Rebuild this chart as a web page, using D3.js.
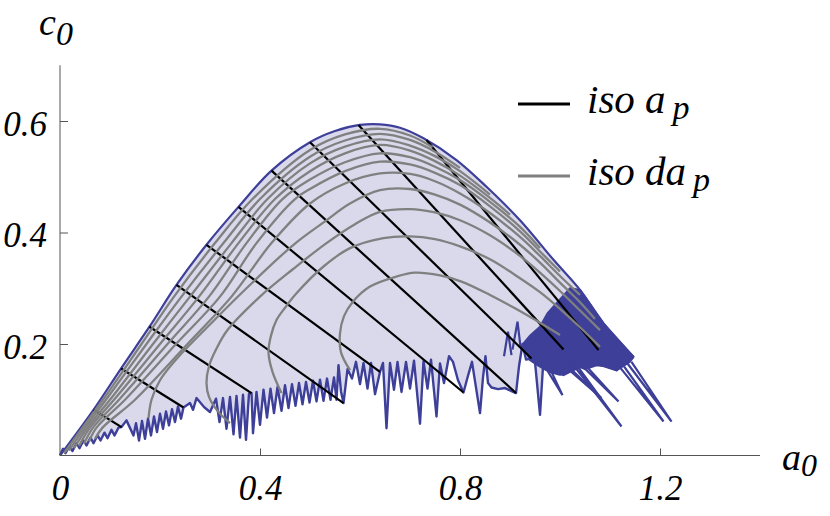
<!DOCTYPE html>
<html>
<head>
<meta charset="utf-8">
<script src="https://cdn.jsdelivr.net/npm/d3@7"></script>
<style>
  html, body { margin: 0; padding: 0; background: #fff; }
  svg text { font-family: "Liberation Serif", "Times New Roman", Tinos, serif !important; font-style: italic; fill: #000; }
</style>
</head>
<body>
<div id="chart"></div>
<script>
const WIDTH = 830;
const HEIGHT = 516;

// axis ticks
const xTicks = [0, 0.4, 0.8, 1.2];
const yTicks = [0.2, 0.4, 0.6];

// upper (smooth) edge of the region, [a0, c0]
const upperEdge = [
  [0, 0], [0.067, 0.082], [0.122, 0.156], [0.179, 0.231], [0.233, 0.306], [0.293, 0.378],
  [0.357, 0.446], [0.423, 0.511], [0.5, 0.562], [0.55, 0.582], [0.6, 0.593], [0.64, 0.594],
  [0.68, 0.588], [0.727, 0.569], [0.793, 0.53], [0.853, 0.482], [0.92, 0.422], [0.987, 0.351],
  [1.04, 0.297], [1.087, 0.237], [1.147, 0.177]
];

// lower (jagged) edge, left to right
const lowerEdge = [
  [0, 0], [0.006, 0.012], [0.011, 0.004], [0.019, 0.017], [0.025, 0.008], [0.033, 0.022], [0.039, 0.013],
  [0.047, 0.027], [0.053, 0.018], [0.061, 0.032], [0.067, 0.022], [0.075, 0.036], [0.081, 0.027],
  [0.089, 0.041], [0.095, 0.031], [0.103, 0.046], [0.109, 0.036], [0.117, 0.05], [0.123, 0.051],
  [0.133, 0.063], [0.147, 0.036], [0.152, 0.058], [0.158, 0.027], [0.164, 0.062], [0.17, 0.03],
  [0.176, 0.066], [0.182, 0.036], [0.188, 0.07], [0.194, 0.042], [0.2, 0.075], [0.206, 0.048],
  [0.212, 0.079], [0.218, 0.054], [0.224, 0.083], [0.23, 0.06], [0.236, 0.088], [0.242, 0.066],
  [0.247, 0.086], [0.26, 0.094], [0.266, 0.082], [0.273, 0.103], [0.288, 0.087], [0.3, 0.078],
  [0.312, 0.102], [0.319, 0.06], [0.326, 0.103], [0.333, 0.048], [0.34, 0.105], [0.347, 0.038],
  [0.353, 0.107], [0.36, 0.032], [0.366, 0.109], [0.372, 0.028], [0.378, 0.111], [0.383, 0.112],
  [0.386, 0.04], [0.393, 0.114], [0.4, 0.055], [0.407, 0.118], [0.414, 0.068], [0.421, 0.12],
  [0.428, 0.076], [0.435, 0.123], [0.443, 0.08], [0.45, 0.126], [0.457, 0.085], [0.464, 0.128],
  [0.471, 0.089], [0.478, 0.13], [0.485, 0.092], [0.492, 0.132], [0.499, 0.095], [0.506, 0.134],
  [0.513, 0.097], [0.52, 0.136], [0.527, 0.098], [0.534, 0.138], [0.541, 0.1], [0.548, 0.14],
  [0.553, 0.1], [0.557, 0.162], [0.562, 0.115], [0.567, 0.094], [0.575, 0.155], [0.584, 0.138],
  [0.592, 0.168], [0.6, 0.128], [0.607, 0.166], [0.615, 0.12], [0.622, 0.166], [0.63, 0.11],
  [0.64, 0.15], [0.646, 0.166], [0.653, 0.049], [0.66, 0.166], [0.668, 0.118], [0.675, 0.168],
  [0.683, 0.114], [0.692, 0.168], [0.7, 0.12], [0.708, 0.17], [0.72, 0.057], [0.727, 0.169],
  [0.735, 0.12], [0.742, 0.172], [0.753, 0.07], [0.76, 0.165], [0.768, 0.13], [0.778, 0.178],
  [0.786, 0.168], [0.796, 0.135], [0.807, 0.113], [0.815, 0.14], [0.824, 0.168], [0.84, 0.076],
  [0.846, 0.14], [0.851, 0.178], [0.856, 0.13], [0.863, 0.122], [0.876, 0.119], [0.89, 0.121],
  [0.902, 0.116], [0.912, 0.112], [0.918, 0.16], [0.925, 0.2], [0.932, 0.172], [0.943, 0.174],
  [0.95, 0.168], [0.96, 0.073], [0.966, 0.16], [0.98, 0.15], [1.0, 0.145], [1.04, 0.158],
  [1.073, 0.165], [1.113, 0.153], [1.147, 0.177]
];

// tangled part near the right end
const denseBlob = [
  [1.02, 0.3], [1.04, 0.297], [1.087, 0.237], [1.147, 0.177], [1.14, 0.168], [1.113, 0.153],
  [1.09, 0.16], [1.073, 0.162], [1.05, 0.155], [1.04, 0.159], [1.02, 0.15], [1.007, 0.144],
  [0.99, 0.15], [0.973, 0.153], [0.955, 0.162], [0.94, 0.171], [0.93, 0.19], [0.927, 0.201],
  [0.94, 0.215], [0.96, 0.231], [0.975, 0.255], [0.99, 0.27], [1.005, 0.285]
];

const spikes = [
  [[1.0, 0.168], [1.083, 0.103], [1.01, 0.165]],
  [[1.045, 0.16], [1.117, 0.097], [1.055, 0.158]],
  [[1.02, 0.17], [1.123, 0.052], [1.03, 0.166]],
  [[1.12, 0.158], [1.207, 0.061], [1.128, 0.16]],
  [[1.135, 0.165], [1.223, 0.061], [1.143, 0.168]],
  [[0.975, 0.152], [1.005, 0.108], [0.983, 0.15]],
  [[0.888, 0.178], [0.896, 0.222], [0.903, 0.18]],
  [[0.905, 0.19], [0.915, 0.24], [0.921, 0.195]]
];

// iso a_p lines (black): start on upper edge, end on lower edge
const isoAp = [
  [[0.067, 0.082], [0.123, 0.051]],
  [[0.122, 0.156], [0.247, 0.086]],
  [[0.179, 0.231], [0.383, 0.112]],
  [[0.233, 0.306], [0.567, 0.094]],
  [[0.293, 0.378], [0.64, 0.15]],
  [[0.357, 0.446], [0.807, 0.113]],
  [[0.423, 0.511], [0.912, 0.112]],
  [[0.5, 0.562], [0.943, 0.174]],
  [[0.597, 0.593], [1.007, 0.19]],
  [[0.733, 0.566], [1.077, 0.189]]
];

// iso da_p curves (gray), outermost first
const isoDap0 = [[0.008, 0.004], [0.045, 0.05], [0.086, 0.1], [0.163, 0.2], [0.228, 0.285], [0.31, 0.381], [0.385, 0.46], [0.5, 0.548], [0.57, 0.576], [0.64, 0.586], [0.7, 0.574], [0.745, 0.553]];
const isoDap1 = [[0.018, 0.009], [0.05, 0.05], [0.092, 0.1], [0.173, 0.2], [0.243, 0.285], [0.327, 0.381], [0.4, 0.46], [0.5, 0.536], [0.57, 0.565], [0.64, 0.577], [0.7, 0.566], [0.75, 0.545], [0.8, 0.516]];
const isoDap2 = [[0.028, 0.013], [0.055, 0.05], [0.1, 0.1], [0.186, 0.2], [0.26, 0.285], [0.343, 0.381], [0.415, 0.46], [0.5, 0.524], [0.57, 0.554], [0.64, 0.567], [0.7, 0.556], [0.75, 0.537], [0.8, 0.51], [0.86, 0.468]];
const isoDap3 = [[0.038, 0.017], [0.06, 0.05], [0.108, 0.1], [0.2, 0.2], [0.278, 0.285], [0.357, 0.381], [0.43, 0.46], [0.5, 0.51], [0.57, 0.542], [0.64, 0.557], [0.7, 0.547], [0.75, 0.528], [0.8, 0.502], [0.86, 0.462], [0.9, 0.432]];
const isoDap4 = [[0.048, 0.021], [0.066, 0.05], [0.118, 0.1], [0.215, 0.2], [0.298, 0.285], [0.373, 0.381], [0.445, 0.46], [0.5, 0.495], [0.57, 0.526], [0.64, 0.542], [0.7, 0.535], [0.75, 0.518], [0.8, 0.494], [0.86, 0.455], [0.92, 0.41], [0.96, 0.372]];
const isoDap5 = [[0.058, 0.025], [0.073, 0.05], [0.13, 0.1], [0.232, 0.2], [0.32, 0.285], [0.393, 0.381], [0.47, 0.46], [0.5, 0.478], [0.57, 0.51], [0.64, 0.527], [0.7, 0.522], [0.75, 0.507], [0.8, 0.485], [0.86, 0.447], [0.92, 0.402], [0.96, 0.366], [1.0, 0.33]];
const isoDap6 = [[0.07, 0.03], [0.085, 0.05], [0.15, 0.1], [0.255, 0.2], [0.343, 0.285], [0.423, 0.381], [0.5, 0.452], [0.57, 0.488], [0.64, 0.506], [0.7, 0.505], [0.75, 0.492], [0.8, 0.47], [0.86, 0.435], [0.92, 0.392], [0.96, 0.358], [1.0, 0.322], [1.04, 0.288]];
const isoDap7 = [[0.177, 0.067], [0.183, 0.1], [0.2, 0.135], [0.235, 0.175], [0.3, 0.235], [0.373, 0.3], [0.467, 0.378], [0.53, 0.42], [0.58, 0.452], [0.64, 0.476], [0.7, 0.478], [0.75, 0.468], [0.8, 0.45], [0.86, 0.418], [0.92, 0.378], [0.96, 0.346], [1.0, 0.31], [1.04, 0.275], [1.07, 0.245]];
const isoDap8 = [[0.34, 0.058], [0.315, 0.08], [0.298, 0.105], [0.293, 0.13], [0.298, 0.16], [0.312, 0.19], [0.335, 0.225], [0.4, 0.285], [0.467, 0.335], [0.533, 0.381], [0.59, 0.415], [0.64, 0.437], [0.7, 0.442], [0.75, 0.436], [0.8, 0.422], [0.86, 0.395], [0.92, 0.358], [0.96, 0.328], [1.0, 0.295], [1.04, 0.26], [1.08, 0.225]];
const isoDap9 = [[0.443, 0.112], [0.425, 0.15], [0.417, 0.185], [0.422, 0.215], [0.433, 0.243], [0.45, 0.265], [0.473, 0.291], [0.527, 0.339], [0.58, 0.372], [0.647, 0.39], [0.7, 0.393], [0.75, 0.388], [0.8, 0.375], [0.86, 0.352], [0.92, 0.318], [0.96, 0.293], [1.0, 0.263], [1.04, 0.23], [1.08, 0.195]];
const isoDap10 = [[0.58, 0.153], [0.562, 0.185], [0.56, 0.219], [0.568, 0.25], [0.585, 0.275], [0.62, 0.303], [0.673, 0.321], [0.71, 0.328], [0.76, 0.323], [0.803, 0.312], [0.86, 0.288], [0.91, 0.264], [0.96, 0.238], [1.0, 0.216]];
const isoDap = [isoDap0, isoDap1, isoDap2, isoDap3, isoDap4, isoDap5, isoDap6, isoDap7, isoDap8, isoDap9, isoDap10];

const legendItems = ["iso a", "iso da"];
const legendColors = ["#000000", "#808080"];

const EDGE = "#3d3f99";
const FILL = "#d9d9eb";
const SERIF = "'Liberation Serif', 'Times New Roman', Tinos, serif";

const svg = d3.select("#chart").append("svg")
    .attr("width", WIDTH)
    .attr("height", HEIGHT);

const x = d3.scaleLinear().domain([0, 1.4]).range([60, 760]);
const y = d3.scaleLinear().domain([0, 0.7]).range([455.5, 65.25]);

const line = d3.line().x(d => x(d[0])).y(d => y(d[1]));
const smooth = d3.line().x(d => x(d[0])).y(d => y(d[1])).curve(d3.curveCatmullRom.alpha(0.5));

// region fill
const regionPts = upperEdge.concat(lowerEdge.slice().reverse());
svg.append("path")
    .attr("d", line(regionPts) + "Z")
    .attr("fill", FILL)
    .attr("stroke", "none");

// blue boundary
svg.append("path")
    .attr("d", smooth(upperEdge))
    .attr("fill", "none")
    .attr("stroke", EDGE)
    .attr("stroke-width", 2.2);
svg.append("path")
    .attr("d", line(lowerEdge))
    .attr("fill", "none")
    .attr("stroke", EDGE)
    .attr("stroke-width", 2.4)
    .attr("stroke-linejoin", "round");
svg.append("path")
    .attr("d", line(denseBlob) + "Z")
    .attr("fill", EDGE)
    .attr("stroke", EDGE)
    .attr("stroke-width", 2);
spikes.forEach(s => {
  svg.append("path")
      .attr("d", line(s))
      .attr("fill", "none")
      .attr("stroke", EDGE)
      .attr("stroke-width", 2.2);
});

// iso a_p (black)
isoAp.forEach(s => {
  svg.append("path")
      .attr("d", line(s))
      .attr("fill", "none")
      .attr("stroke", "#000")
      .attr("stroke-width", 2.2);
});

// iso da_p (gray)
isoDap.forEach(s => {
  svg.append("path")
      .attr("d", smooth(s))
      .attr("fill", "none")
      .attr("stroke", "#808080")
      .attr("stroke-width", 2.3);
});

// axes
const xAxis = svg.append("g")
    .attr("transform", `translate(0,${y(0)})`)
    .call(d3.axisBottom(x).tickValues(xTicks).tickSizeInner(-7).tickSizeOuter(0).tickPadding(20)
      .tickFormat(d => d === 0 ? "0" : d3.format(".1f")(d)));
const yAxis = svg.append("g")
    .attr("transform", `translate(${x(0)},0)`)
    .call(d3.axisLeft(y).tickValues(yTicks).tickSizeInner(-8).tickSizeOuter(0).tickPadding(13)
      .tickFormat(d3.format(".1f")));

[xAxis, yAxis].forEach(g => {
  g.attr("font-family", SERIF).attr("font-size", 35);
  g.select(".domain").attr("stroke", "#555").attr("stroke-width", 1);
  g.selectAll(".tick line").attr("stroke", "#555").attr("stroke-width", 1);
  g.selectAll(".tick text")
      .attr("font-family", SERIF)
      .attr("font-style", "italic")
      .attr("font-size", 35)
      .attr("fill", "#000");
});
xAxis.selectAll(".tick line").filter(d => d === 0).remove();
yAxis.selectAll(".tick text").attr("dy", "0.4em");
// domain lines span the full plot range
xAxis.select(".domain").attr("d", `M${x(0)},0H${x(1.4)}`);
yAxis.select(".domain").attr("d", `M0,${y(0)}V${y(0.7)}`);

// axis labels
const cLab = svg.append("text").attr("x", 39).attr("y", 35).attr("font-family", SERIF).attr("font-size", 38).text("c");
cLab.append("tspan").attr("dy", 10).attr("font-size", 34).text("0");
const aLab = svg.append("text").attr("x", 782).attr("y", 470).attr("font-family", SERIF).attr("font-size", 38).text("a");
aLab.append("tspan").attr("dy", 6).attr("font-size", 32).text("0");

// legend
const legendY = [104, 176];
legendItems.forEach((name, i) => {
  svg.append("line")
      .attr("x1", 518).attr("x2", 570)
      .attr("y1", legendY[i]).attr("y2", legendY[i])
      .attr("stroke", legendColors[i])
      .attr("stroke-width", 3);
  const t = svg.append("text")
      .attr("x", 587)
      .attr("y", legendY[i] + 9)
      .attr("font-family", SERIF)
      .attr("font-size", 41)
      .text(name);
  t.append("tspan").attr("dx", 7).attr("dy", 6).attr("font-size", 34).text("p");
});
</script>
</body>
</html>
